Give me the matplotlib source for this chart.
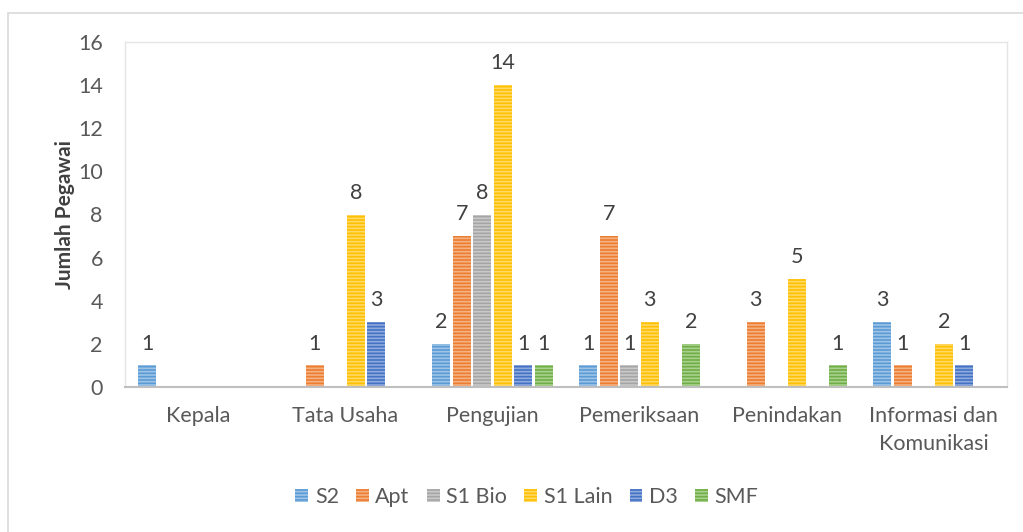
import numpy as np
import matplotlib
matplotlib.use("Agg")
import matplotlib.pyplot as plt
from matplotlib.patches import Rectangle

plt.rcParams['font.family'] = ['Lato', 'DejaVu Sans']
plt.rcParams['hatch.linewidth'] = 1.2

categories = ["Kepala", "Tata Usaha", "Pengujian", "Pemeriksaan", "Penindakan",
              "Informasi dan\nKomunikasi"]
series = ["S2", "Apt", "S1 Bio", "S1 Lain", "D3", "SMF"]
s2 = [1, 0, 2, 1, 0, 3]
apt = [0, 1, 7, 7, 3, 1]
s1_bio = [0, 0, 8, 1, 0, 0]
s1_lain = [0, 8, 14, 3, 5, 2]
d3 = [0, 3, 1, 0, 0, 1]
smf = [0, 0, 1, 2, 1, 0]
values = [s2, apt, s1_bio, s1_lain, d3, smf]

colors = ["#5B9BD5", "#ED7D31", "#A5A5A5", "#FFC000", "#4472C4", "#70AD47"]
stripes = ["#9DC3E6", "#F4B183", "#C9C9C9", "#FFD966", "#8FAADC", "#A9D18E"]

fig = plt.figure(figsize=(10.23, 5.32), dpi=100)
ax = fig.add_axes([125 / 1023, 1 - 387 / 532, 882 / 1023, 345 / 532])

# outer chart border
fig.patches.append(Rectangle((8 / 1023, -0.01), 1.02, 1 - 13 / 532 + 0.01,
                             transform=fig.transFigure, fill=False,
                             edgecolor="#D9D9D9", linewidth=1.2))

x = np.arange(len(categories))
step = 0.14
width = 0.123
for i, (name, vals) in enumerate(zip(series, values)):
    pos = x + (i - 2.5) * step
    bars = ax.bar(pos, vals, width, color=colors[i], edgecolor=stripes[i],
                  linewidth=0, hatch="-----", label=name)
    for b, v in zip(bars, vals):
        if v > 0:
            ax.text(b.get_x() + b.get_width() / 2, v + 0.55, str(v),
                    ha="center", va="bottom", fontsize=15.5, color="#404040")

ax.set_xlim(-0.5, len(categories) - 0.5)
ax.set_ylim(0, 16)
ax.set_yticks(range(0, 17, 2))
ax.set_xticks(x)
ax.set_xticklabels(categories, fontsize=15.5, color="#595959", linespacing=1.5)
ax.tick_params(axis="y", labelsize=15.5, labelcolor="#595959", length=0, pad=16)
ax.tick_params(axis="x", length=0, pad=14)

for side in ["left", "top", "right"]:
    ax.spines[side].set_color("#E5E5E5")
    ax.spines[side].set_linewidth(1)
ax.spines["bottom"].set_color("#BFBFBF")
ax.spines["bottom"].set_linewidth(1.5)

ax.set_ylabel("Jumlah Pegawai", fontsize=15, fontweight="bold", color="#404040")
ax.yaxis.set_label_coords(-50 / 882, 0.5)

leg = fig.legend(loc="center", bbox_to_anchor=(0.515, 1 - 497 / 532), ncol=6,
                 frameon=False, fontsize=15.5, handlelength=0.6, handleheight=0.6,
                 handletextpad=0.3, columnspacing=0.8)
for t in leg.get_texts():
    t.set_color("#595959")

fig.savefig("out.png", dpi=100)
